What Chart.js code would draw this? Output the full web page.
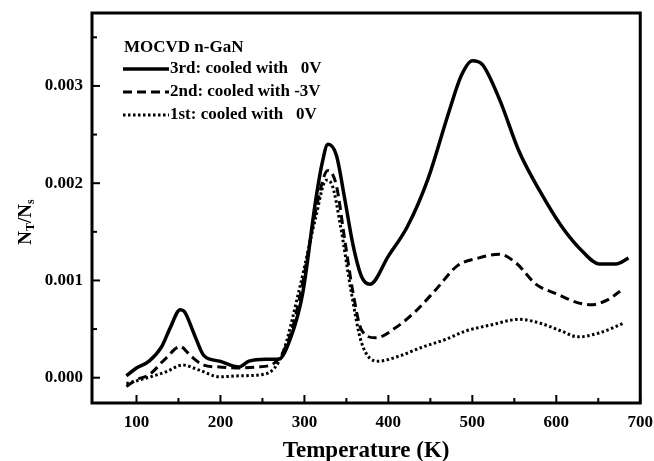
<!DOCTYPE html>
<html>
<head>
<meta charset="utf-8">
<script src="https://cdn.jsdelivr.net/npm/chart.js@4.4.1/dist/chart.umd.min.js"></script>
<style>
  html, body { margin: 0; padding: 0; background: #fff; }
  #wrap { width: 654px; height: 461px; }
</style>
</head>
<body>
<div id="wrap"><canvas id="trapChart"></canvas></div>
<script>
// temperatures (K) and N_T/N_s
const temps3rd = [88, 100, 115, 130, 140, 152, 157, 170, 180, 199, 222, 234, 254, 269, 284, 298, 313, 321, 328, 338, 348, 358, 368, 378, 400, 423, 447, 472, 487, 500, 512, 532, 556, 581, 606, 631, 651, 671, 686];
const vals3rd  = [0.00002, 0.00010, 0.00017, 0.00032, 0.00051, 0.00070, 0.00068, 0.00042, 0.00023, 0.00017, 0.00011, 0.00017, 0.00019, 0.00019, 0.00042, 0.00087, 0.00180, 0.00220, 0.00240, 0.00229, 0.00184, 0.00136, 0.00104, 0.00096, 0.00125, 0.00156, 0.00204, 0.00273, 0.00311, 0.00326, 0.00322, 0.00287, 0.00232, 0.00191, 0.00156, 0.00130, 0.00117, 0.00117, 0.00123];

const temps2nd = [88, 100, 115, 135, 152, 165, 180, 199, 219, 244, 264, 284, 298, 313, 328, 338, 348, 358, 368, 385, 408, 432, 457, 482, 507, 532, 552, 576, 601, 626, 641, 661, 676];
const vals2nd  = [-0.00009, -0.00002, 0.00003, 0.00020, 0.00032, 0.00022, 0.00013, 0.00011, 0.00010, 0.00011, 0.00015, 0.00046, 0.00098, 0.00170, 0.00213, 0.00198, 0.00142, 0.00087, 0.00049, 0.00041, 0.00051, 0.00068, 0.00091, 0.00115, 0.00123, 0.00127, 0.00118, 0.00096, 0.00086, 0.00077, 0.00075, 0.00080, 0.00089];

const temps1st = [88, 105, 135, 155, 174, 199, 224, 254, 274, 294, 313, 326, 333, 343, 356, 368, 388, 412, 442, 467, 492, 521, 556, 581, 606, 626, 651, 680];
const vals1st  = [-0.00006, -0.00002, 0.00006, 0.00013, 0.00008, 0.00001, 0.00002, 0.00004, 0.00025, 0.00091, 0.00163, 0.00203, 0.00198, 0.00156, 0.00087, 0.00036, 0.00017, 0.00022, 0.00032, 0.00039, 0.00048, 0.00054, 0.00060, 0.00056, 0.00048, 0.00042, 0.00046, 0.00056];

const seriesLabels = ['3rd: cooled with   0V', '2nd: cooled with -3V', '1st: cooled with   0V'];
const legendTitle = 'MOCVD n-GaN';

const xMajorTicks = [100, 200, 300, 400, 500, 600, 700];
const xMinorTicks = [150, 250, 350, 450, 550, 650];
const yMajorTicks = [0, 0.001, 0.002, 0.003];
const yMinorTicks = [0.0005, 0.0015, 0.0025, 0.0035];

const serif = '"Liberation Serif", "DejaVu Serif", serif';

function toPoints(xs, ys) {
    return xs.map((x, i) => ({ x: x, y: ys[i] }));
}

// frame, inward ticks, legend and y-axis title
const framePlugin = {
    id: 'frame',
    afterDraw(chart) {
        const ctx = chart.ctx;
        const ca = chart.chartArea;
        const xs = chart.scales.x;
        const ys = chart.scales.y;
        ctx.save();
        ctx.strokeStyle = '#000';
        ctx.lineWidth = 2;
        xMajorTicks.forEach(v => {
            const px = xs.getPixelForValue(v);
            ctx.beginPath(); ctx.moveTo(px, ca.bottom); ctx.lineTo(px, ca.bottom - 8); ctx.stroke();
        });
        xMinorTicks.forEach(v => {
            const px = xs.getPixelForValue(v);
            ctx.beginPath(); ctx.moveTo(px, ca.bottom); ctx.lineTo(px, ca.bottom - 5); ctx.stroke();
        });
        yMajorTicks.forEach(v => {
            const py = ys.getPixelForValue(v);
            ctx.beginPath(); ctx.moveTo(ca.left, py); ctx.lineTo(ca.left + 8, py); ctx.stroke();
        });
        yMinorTicks.forEach(v => {
            const py = ys.getPixelForValue(v);
            ctx.beginPath(); ctx.moveTo(ca.left, py); ctx.lineTo(ca.left + 5, py); ctx.stroke();
        });
        ctx.lineWidth = 3;
        ctx.strokeRect(ca.left, ca.top, ca.right - ca.left, ca.bottom - ca.top);

        // legend
        ctx.fillStyle = '#000';
        ctx.font = 'bold 17px ' + serif;
        ctx.textBaseline = 'middle';
        ctx.textAlign = 'left';
        const lx = ca.left + 32;
        ctx.fillText(legendTitle, lx, ca.top + 35);
        chart.data.datasets.forEach((ds, i) => {
            const ly = ca.top + 56 + i * 23;
            ctx.beginPath();
            ctx.lineWidth = ds.borderWidth;
            ctx.setLineDash(ds.borderDash || []);
            ctx.moveTo(lx - 1, ly);
            ctx.lineTo(lx + 45, ly);
            ctx.stroke();
            ctx.setLineDash([]);
            ctx.fillText(ds.label, lx + 46, ly);
        });

        // y title N_T / N_s
        ctx.translate(26, 222);
        ctx.rotate(-Math.PI / 2);
        const big = 'bold 19px ' + serif;
        const small = 'bold 12px ' + serif;
        const parts = [['N', big, 0], ['T', small, 5], ['/N', big, 0], ['s', small, 5]];
        let w = 0;
        parts.forEach(p => { ctx.font = p[1]; w += ctx.measureText(p[0]).width; });
        let cx = -w / 2;
        parts.forEach(p => {
            ctx.font = p[1];
            ctx.fillText(p[0], cx, p[2]);
            cx += ctx.measureText(p[0]).width;
        });
        ctx.restore();
    }
};

new Chart(document.getElementById('trapChart'), {
    type: 'line',
    data: {
        datasets: [
            { label: seriesLabels[0], data: toPoints(temps3rd, vals3rd), borderColor: '#000', borderWidth: 3.5, borderDash: [] },
            { label: seriesLabels[1], data: toPoints(temps2nd, vals2nd), borderColor: '#000', borderWidth: 3, borderDash: [9, 5] },
            { label: seriesLabels[2], data: toPoints(temps1st, vals1st), borderColor: '#000', borderWidth: 3, borderDash: [2.5, 2.5] }
        ]
    },
    options: {
        responsive: true,
        maintainAspectRatio: false,
        animation: false,
        layout: { padding: { left: 0, right: 12, top: 13, bottom: 0 } },
        elements: {
            point: { radius: 0 },
            line: { cubicInterpolationMode: 'monotone', fill: false }
        },
        plugins: {
            legend: { display: false },
            tooltip: { enabled: false }
        },
        scales: {
            x: {
                type: 'linear',
                min: 47,
                max: 700,
                grid: { display: false },
                border: { display: false },
                afterBuildTicks: s => { s.ticks = xMajorTicks.map(v => ({ value: v })); },
                afterFit: s => { s.height = 58; },
                ticks: {
                    padding: 1,
                    maxRotation: 0,
                    color: '#000',
                    font: { family: serif, size: 17, weight: 'bold' },
                    callback: v => String(v)
                },
                title: {
                    display: true,
                    text: 'Temperature (K)',
                    color: '#000',
                    padding: { top: 10, bottom: -4 },
                    font: { family: serif, size: 23, weight: 'bold' }
                }
            },
            y: {
                min: -0.00026,
                max: 0.00375,
                grid: { display: false },
                border: { display: false },
                afterBuildTicks: s => { s.ticks = yMajorTicks.map(v => ({ value: v })); },
                afterFit: s => { s.width = 92; },
                ticks: {
                    padding: 1,
                    color: '#000',
                    font: { family: serif, size: 17, weight: 'bold' },
                    callback: v => v.toFixed(3)
                }
            }
        }
    },
    plugins: [framePlugin]
});
</script>
</body>
</html>
